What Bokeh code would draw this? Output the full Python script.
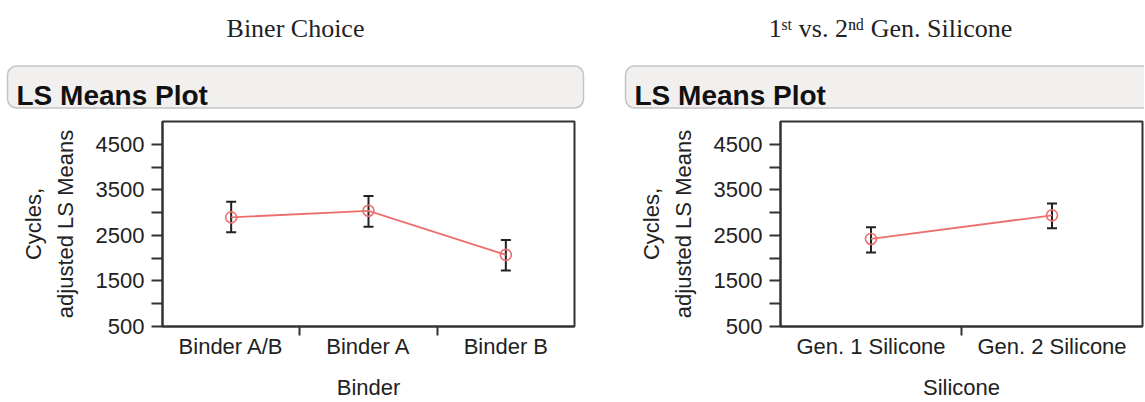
from bokeh.plotting import figure
from bokeh.models import Range1d, FixedTicker, ColumnDataSource, Whisker, TeeHead
from bokeh.layouts import row, column
from bokeh.embed import file_html
from bokeh.resources import INLINE
from bokeh.core.properties import value

# ---------------- data ----------------
binder_categories = ["Binder A/B", "Binder A", "Binder B"]
binder_means = [2896, 3040, 2073]
binder_upper = [3237, 3362, 2400]
binder_lower = [2569, 2691, 1730]

silicone_categories = ["Gen. 1 Silicone", "Gen. 2 Silicone"]
silicone_means = [2422, 2940]
silicone_upper = [2678, 3202]
silicone_lower = [2123, 2656]

y_major_ticks = [500, 1500, 2500, 3500, 4500]
y_minor_ticks = [1000, 2000, 3000, 4000]
y_min, y_max = 500, 5000

panel_titles = ["Biner Choice", "1\u02e2\u1d57 vs. 2\u207f\u1d48 Gen. Silicone"]
header_text = "LS Means Plot"
y_label = "Cycles,\nadjusted LS Means"
x_labels = ["Binder", "Silicone"]

SANS = "Liberation Sans"
SERIF = "Liberation Serif"
DARK = "#333333"
RED = "#ec6f6f"
HEADER_H = 116


def header(width, title, box_left, title_x):
    h = figure(width=width, height=HEADER_H, x_range=Range1d(0, width),
               y_range=Range1d(HEADER_H, 0), output_backend="svg",
               toolbar_location=None, min_border=0, frame_align=False)
    h.axis.visible = False
    h.grid.visible = False
    h.outline_line_color = None
    h.background_fill_color = "white"
    h.border_fill_color = "white"
    h.quad(left=[box_left], right=[box_left + 576], top=[65.5], bottom=[107.5],
           fill_color="#f1f0ef", line_color="#c4c4c4", line_width=1.5,
           border_radius=9)
    h.text(x=[title_x], y=[28], text=[title], text_font=value(SERIF),
           text_font_size="26px", text_align="center",
           text_baseline="alphabetic", text_color="#222222")
    h.text(x=[box_left + 9], y=[95], text=[header_text], text_font=value(SANS),
           text_font_size="28px", text_font_style="bold", text_align="left",
           text_baseline="alphabetic", text_color="#111111")
    return h


def panel(cats, means, upper, lower, xlabel, width, left_border, right_border):
    n = len(cats)
    xs = [i + 0.5 for i in range(n)]
    p = figure(width=width, height=286, x_range=Range1d(0, n),
               y_range=Range1d(y_min, y_max), output_backend="svg",
               toolbar_location=None, min_border_left=left_border,
               min_border_right=right_border, min_border_top=5,
               min_border_bottom=75, frame_align=False)
    p.grid.visible = False
    p.outline_line_color = DARK
    p.outline_line_width = 2
    p.border_fill_color = "white"
    src = ColumnDataSource(dict(x=xs, mean=means, upper=upper, lower=lower))
    p.line("x", "mean", source=src, line_color=RED, line_width=1.8)
    p.scatter("x", "mean", source=src, marker="circle", size=11,
              fill_color=None, line_color=RED, line_width=1.6)
    w = Whisker(base="x", upper="upper", lower="lower", source=src,
                dimension="height", line_color="#222222", line_width=2,
                upper_head=TeeHead(size=10, line_color="#222222", line_width=2),
                lower_head=TeeHead(size=10, line_color="#222222", line_width=2))
    p.add_layout(w)

    xa = p.xaxis[0]
    xa.ticker = FixedTicker(ticks=xs, minor_ticks=[i for i in range(1, n)])
    xa.major_label_overrides = {x: c for x, c in zip(xs, cats)}
    xa.major_tick_out = 0
    xa.major_tick_in = 0
    xa.minor_tick_out = 9
    xa.minor_tick_in = 0
    xa.minor_tick_line_color = DARK
    xa.minor_tick_line_width = 2
    xa.major_label_standoff = -2
    xa.axis_label = xlabel
    xa.axis_label_standoff = 13

    ya = p.yaxis[0]
    ya.ticker = FixedTicker(ticks=y_major_ticks, minor_ticks=y_minor_ticks)
    ya.major_tick_out = 11
    ya.major_tick_in = 0
    ya.minor_tick_out = 11
    ya.minor_tick_in = 0
    ya.major_tick_line_color = DARK
    ya.minor_tick_line_color = DARK
    ya.major_tick_line_width = 2
    ya.minor_tick_line_width = 2
    ya.major_label_standoff = 7
    ya.axis_label = y_label
    ya.axis_label_standoff = 15
    ya.axis_label_text_line_height = 1.25

    for ax in (xa, ya):
        ax.axis_line_color = DARK
        ax.axis_line_width = 2
        ax.major_label_text_font = SANS
        ax.major_label_text_font_size = "22px"
        ax.major_label_text_color = "#222222"
        ax.axis_label_text_font = SANS
        ax.axis_label_text_font_size = "22px"
        ax.axis_label_text_font_style = "normal"
        ax.axis_label_text_color = "#222222"
    return p


h1 = header(604, panel_titles[0], 7, 295)
p1 = panel(binder_categories, binder_means, binder_upper, binder_lower,
           x_labels[0], 604, 162, 30)
h2 = header(540, panel_titles[1], 21, 286)
p2 = panel(silicone_categories, silicone_means, silicone_upper, silicone_lower,
           x_labels[1], 540, 176, 2)

layout = row(column(h1, p1, spacing=0), column(h2, p2, spacing=0), spacing=0)
open("out.html", "w").write(file_html(layout, INLINE))
